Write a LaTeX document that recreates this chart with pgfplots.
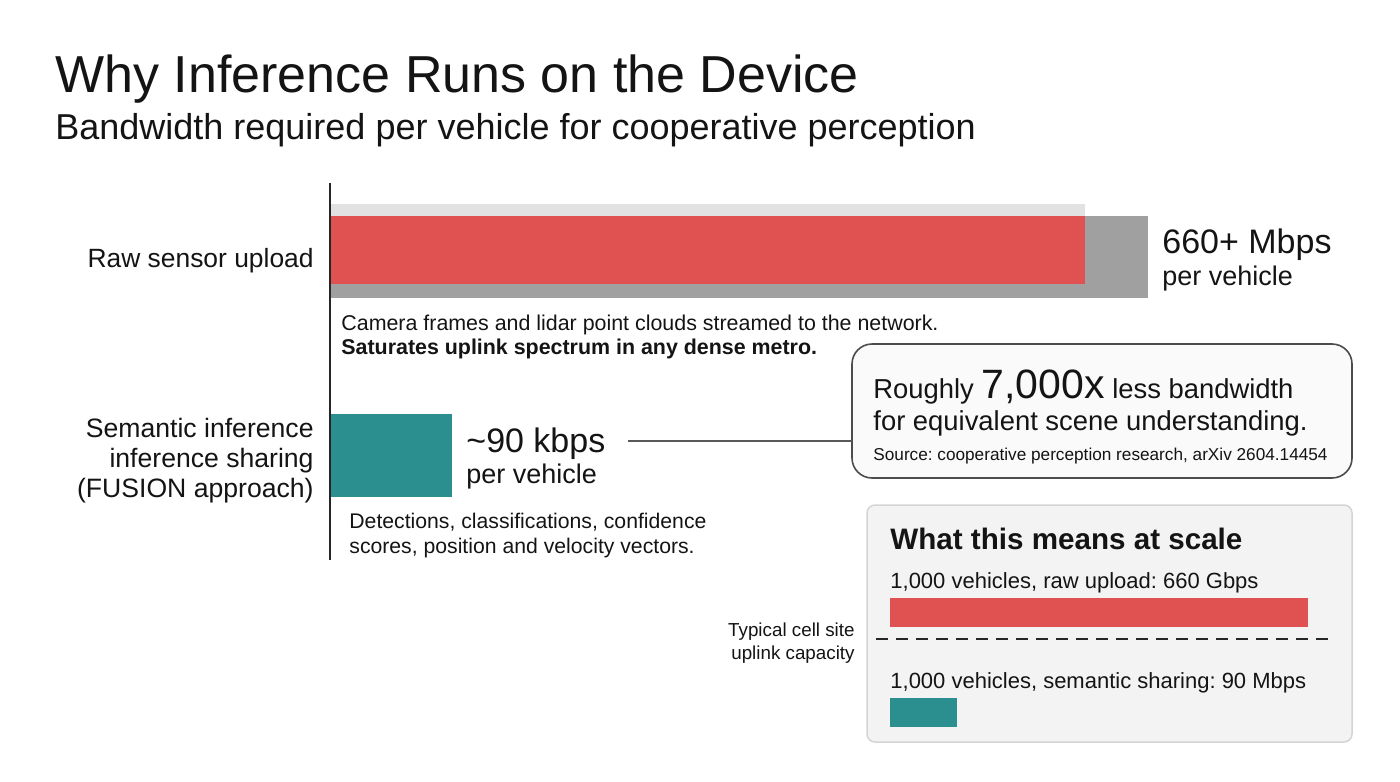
\documentclass[border=0pt]{standalone}
\usepackage{fontspec}
\setmainfont{Liberation Sans}
\usepackage{pgfplots}
\pgfplotsset{compat=1.18}
\definecolor{barred}{RGB}{224,82,82}
\definecolor{barteal}{RGB}{42,143,142}
\definecolor{shadegrey}{RGB}{160,160,160}
\definecolor{lightgrey}{RGB}{226,226,226}
\definecolor{boxfill}{RGB}{243,243,243}
\definecolor{boxedge}{RGB}{212,212,212}
\definecolor{ink}{RGB}{20,20,20}
\newcommand{\fs}[2]{\fontsize{#1}{#2}\selectfont}
\frenchspacing
\begin{document}
\begin{tikzpicture}
\begin{scope}[x=0.5pt,y=-0.5pt]
\path[use as bounding box, fill=white] (0,0) rectangle (1400,781);
\draw[boxedge, fill=boxfill, line width=0.75pt, rounded corners=4pt] (867,505) rectangle (1352,742);
\draw[black!70, fill=white!98!black, line width=0.8pt, rounded corners=10pt] (852,344) rectangle (1352,478);
\end{scope}
\pgfplotsset{canvas/.style={at={(0pt,-390.5pt)}, anchor=south west, scale only axis,
  width=700pt, height=390.5pt, axis lines=none, ticks=none, ymin=0, ymax=781, y dir=reverse, clip=false}}
% main chart: x = 0 at the axis line (pixel 330)
\begin{axis}[canvas, xmin=-330, xmax=1070]
\addplot[xbar, bar shift=0pt, fill=lightgrey, draw=none, bar width=12] coordinates {(755,210)};
\addplot[xbar, bar shift=0pt, fill=shadegrey, draw=none, bar width=82] coordinates {(818,257)};
\addplot[xbar, bar shift=0pt, fill=barred, draw=none, bar width=68] coordinates {(755,250)};
\addplot[xbar, bar shift=0pt, fill=barteal, draw=none, bar width=83] coordinates {(122,455.5)};
\end{axis}
% scale panel: x = 0 at pixel 890
\begin{axis}[canvas, xmin=-890, xmax=510]
\addplot[xbar, bar shift=0pt, fill=barred, draw=none, bar width=29] coordinates {(418,612.5)};
\addplot[xbar, bar shift=0pt, fill=barteal, draw=none, bar width=29] coordinates {(67,712.5)};
\end{axis}
\begin{scope}[x=0.5pt,y=-0.5pt, every node/.style={inner sep=0pt, text=ink}]
\draw[line width=0.75pt, black!85] (330,183) -- (330,560);
\draw[line width=0.7pt, black!65] (628,441) -- (852,441);
\draw[line width=1pt, black!85, dash pattern=on 6pt off 4pt] (876,639) -- (1332,639);
\node[anchor=base west, font=\fs{26}{30}] at (55,92) {Why Inference Runs on the Device};
\node[anchor=base west, font=\fs{18}{22}] at (55,139) {Bandwidth required per vehicle for cooperative perception};
\node[anchor=base east, font=\fs{13.2}{16}] at (314,267) {Raw sensor upload};
\node[anchor=east, align=right, font=\fs{13.3}{15}] at (314,461) {Semantic inference\\inference sharing\\(FUSION approach)};
\node[anchor=base west, font=\fs{17}{20}] at (1162,253) {660+ Mbps};
\node[anchor=base west, font=\fs{13.5}{16}] at (1162,285) {per vehicle};
\node[anchor=base west, font=\fs{17}{20}] at (466,452) {\textasciitilde 90 kbps};
\node[anchor=base west, font=\fs{13.5}{16}] at (466,483) {per vehicle};
\node[anchor=base west, font=\fs{10.7}{13}] at (341,330) {Camera frames and lidar point clouds streamed to the network.};
\node[anchor=base west, font=\fs{10.7}{13}\bfseries] at (341,354) {Saturates uplink spectrum in any dense metro.};
\node[anchor=base west, font=\fs{10.6}{13}] at (349,528) {Detections, classifications, confidence};
\node[anchor=base west, font=\fs{10.6}{13}] at (349,553) {scores, position and velocity vectors.};
\node[anchor=base west, font=\fs{13.7}{16}] at (873,398) {Roughly {\fs{20.5}{24}7,000x} less bandwidth};
\node[anchor=base west, font=\fs{13.7}{16}] at (873,430) {for equivalent scene understanding.};
\node[anchor=base west, font=\fs{8.6}{10}] at (873,460) {Source: cooperative perception research, arXiv 2604.14454};
\node[anchor=base west, font=\fs{14.8}{18}\bfseries] at (890,549) {What this means at scale};
\node[anchor=base west, font=\fs{11}{13}] at (890,588) {1,000 vehicles, raw upload: 660 Gbps};
\node[anchor=base west, font=\fs{11}{13}] at (890,688) {1,000 vehicles, semantic sharing: 90 Mbps};
\node[anchor=base east, font=\fs{9.4}{11}] at (855,636) {Typical cell site};
\node[anchor=base east, font=\fs{9.4}{11}] at (855,659) {uplink capacity};
\end{scope}
\end{tikzpicture}
\end{document}
